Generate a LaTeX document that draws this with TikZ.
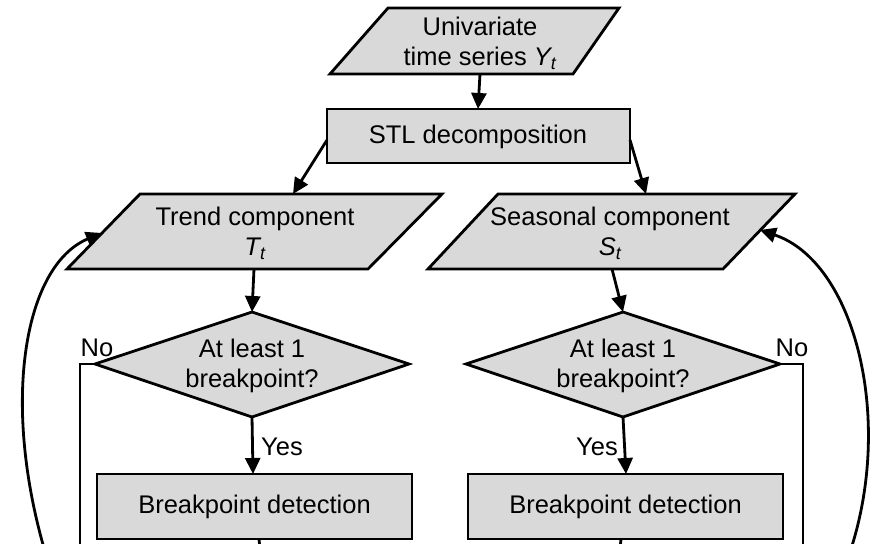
\documentclass[tikz,border=0pt]{standalone}
\usepackage{fontspec}
\setmainfont{Liberation Sans}
\usetikzlibrary{arrows.meta}
\definecolor{boxgray}{RGB}{217,217,217}
\tikzset{
  shapefill/.style={fill=boxgray, draw=black, line width=2.8pt, line join=miter},
  conn/.style={line width=2.8pt, -{Triangle[length=16pt,width=15pt]}},
  plainline/.style={line width=2.8pt},
  lbl/.style={font=\fontsize{25.5}{30}\selectfont, align=center, inner sep=0pt},
}
\begin{document}
\begin{tikzpicture}[x=1pt,y=-1pt]
\clip (0,0) rectangle (874,543);
\fill[white] (0,0) rectangle (874,543);

% shapes
\draw[shapefill] (330,74) -- (388,8) -- (619,8) -- (573,74) -- cycle;
\draw[shapefill] (327,109) rectangle (630,163);
\draw[shapefill] (67,269) -- (140,194) -- (442,194) -- (368,269) -- cycle;
\draw[shapefill] (428,269) -- (498,194) -- (795,194) -- (723,269) -- cycle;
\draw[shapefill] (95,364) -- (252,312) -- (409,364) -- (252,417) -- cycle;
\draw[shapefill] (466,364) -- (623,312) -- (780,364) -- (623,417) -- cycle;
\draw[shapefill] (97,474) rectangle (412,539);
\draw[shapefill] (468,474) rectangle (783,539);

% texts
\node[lbl] (ynode) at (480,43) {Univariate\\time series {\itshape Y\textsubscript{t}}};
\node[lbl] (stl) at (478,137) {STL decomposition};
\node[lbl] (trend) at (255,233) {Trend component\\{\itshape T\textsubscript{t}}};
\node[lbl] (seas) at (610,233) {Seasonal component\\{\itshape S\textsubscript{t}}};
\node[lbl] (dl) at (252,366) {At least 1\\breakpoint?};
\node[lbl] (dr) at (623,366) {At least 1\\breakpoint?};
\node[lbl] (bl) at (254.5,507) {Breakpoint detection};
\node[lbl] (br) at (625.5,507) {Breakpoint detection};
\node[lbl] (nol) at (97,348) {No};
\node[lbl] (nor) at (792,348) {No};
\node[lbl] (yesl) at (282,447) {Yes};
\node[lbl] (yesr) at (597,447) {Yes};

% anchor points
\coordinate (Ybot) at (480,74);
\coordinate (STLtop) at (478,109);
\coordinate (STLl) at (327,140);
\coordinate (STLr) at (630,140);
\coordinate (Ttop) at (293,194);
\coordinate (Stop) at (646,194);
\coordinate (Tbot) at (254,269);
\coordinate (Sbot) at (612,269);
\coordinate (DLtop) at (252,312);
\coordinate (DRtop) at (623,312);
\coordinate (DLbot) at (252,417);
\coordinate (DRbot) at (623,417);
\coordinate (BLtop) at (253,474);
\coordinate (BRtop) at (626,474);
\coordinate (DLl) at (95,364);
\coordinate (DRr) at (780,364);
\coordinate (NLc) at (80,364);
\coordinate (NRc) at (803,364);
\coordinate (NLend) at (80,560);
\coordinate (NRend) at (803,560);
\coordinate (Tleft) at (102,233);
\coordinate (Sright) at (760,230);
\coordinate (CLstart) at (46,555);
\coordinate (CRstart) at (849,555);
\coordinate (BLbot) at (259,539);
\coordinate (BRbot) at (621,539);
\coordinate (BLend) at (261,560);
\coordinate (BRend) at (619,560);

% connectors
\draw[conn] (Ybot) -- (STLtop);
\draw[conn] (STLl) -- (Ttop);
\draw[conn] (STLr) -- (Stop);
\draw[conn] (Tbot) -- (DLtop);
\draw[conn] (Sbot) -- (DRtop);
\draw[conn] (DLbot) -- (BLtop);
\draw[conn] (DRbot) -- (BRtop);
\draw[plainline] (DLl) -- (NLc) -- (NLend);
\draw[plainline] (DRr) -- (NRc) -- (NRend);
\draw[conn] (CLstart) .. controls (0,400) and (25,265) .. (Tleft);
\draw[conn] (CRstart) .. controls (895,420) and (855,262) .. (Sright);
\draw[plainline] (BLbot) -- (BLend);
\draw[plainline] (BRbot) -- (BRend);
\end{tikzpicture}
\end{document}
